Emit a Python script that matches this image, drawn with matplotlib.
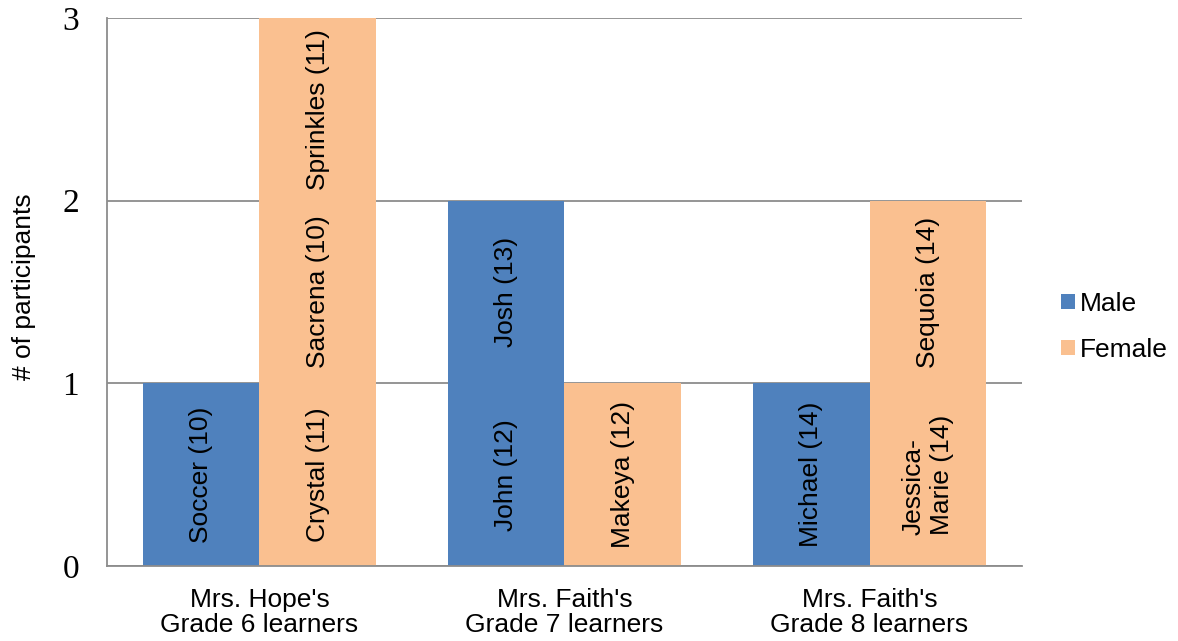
import matplotlib
matplotlib.use("Agg")
import matplotlib.pyplot as plt
from matplotlib.patches import Patch
import numpy as np

# ---- data ----
groups = ["Mrs. Hope's\nGrade 6 learners", "Mrs. Faith's\nGrade 7 learners", "Mrs. Faith's\nGrade 8 learners"]
male_names = [["Soccer (10)"], ["John (12)", "Josh (13)"], ["Michael (14)"]]
female_names = [["Crystal (11)", "Sacrena (10)", "Sprinkles (11)"], ["Makeya (12)"],
                ["Jessica-\nMarie (14)", "Sequoia (14)"]]
series = ["Male", "Female"]
colors = ["#4F81BD", "#FAC090"]

plt.rcParams['font.family'] = ['Liberation Sans', 'DejaVu Sans']
fs = 19

fig = plt.figure(figsize=(11.78, 6.41), dpi=100)
ax = fig.add_axes([0.0908, 0.117, 0.7768, 0.8549])

x = np.arange(len(groups))
w = 0.383
offsets = [-w / 2, w / 2]

# one unit-high segment per participant, stacked
for si, names_list in enumerate([male_names, female_names]):
    for gi, names in enumerate(names_list):
        for k, name in enumerate(names):
            ax.bar(x[gi] + offsets[si], 1, w, bottom=k, color=colors[si], linewidth=0, zorder=2)
            ax.text(x[gi] + offsets[si], k + 0.5, name, rotation=90, ha='center', va='center',
                    fontsize=fs, multialignment='left', linespacing=1.2, zorder=3)

ax.set_xlim(-0.5, len(groups) - 0.5)
ax.set_ylim(0, 3)
ax.set_yticks([0, 1, 2, 3])
ax.set_yticklabels(["0", "1", "2", "3"], fontfamily='Liberation Serif', fontsize=24)
ax.set_xticks(x)
ax.set_xticklabels(groups, fontsize=fs, linespacing=1.05)
ax.tick_params(axis='x', length=0, pad=16)
ax.tick_params(axis='y', length=0, pad=20)
ax.yaxis.grid(True, color='#8C8C8C', linewidth=1.3, zorder=1)
ax.set_axisbelow(True)
for s in ['top', 'right']:
    ax.spines[s].set_visible(False)
for s in ['left', 'bottom']:
    ax.spines[s].set_color('#8C8C8C')
    ax.spines[s].set_linewidth(1.3)

ax.set_ylabel("# of participants", fontsize=fs)
ax.yaxis.set_label_coords(-0.078, 0.51)

handles = [Patch(facecolor=c, edgecolor='none') for c in colors]
fig.legend(handles, series, loc='center left', bbox_to_anchor=(0.901, 0.49), frameon=False,
           fontsize=fs, handlelength=0.5, handleheight=0.5, handletextpad=0.2, labelspacing=0.85,
           borderpad=0, borderaxespad=0)

fig.savefig("out.png", dpi=100)
